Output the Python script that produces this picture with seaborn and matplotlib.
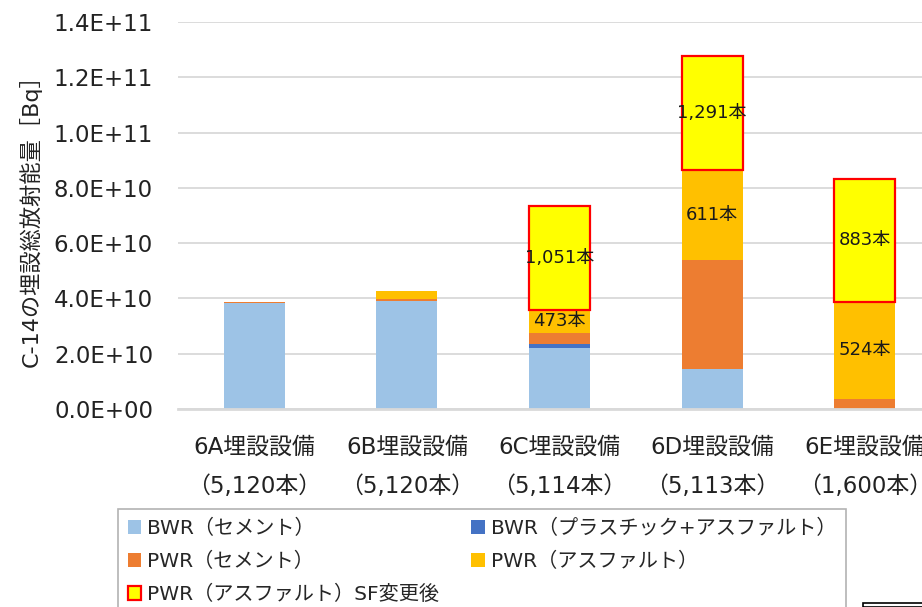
import pandas as pd
import matplotlib
matplotlib.use("Agg")
import matplotlib.pyplot as plt
from matplotlib.patches import Patch, Rectangle
import seaborn as sns

sns.set_theme(style="white")
# DejaVu for latin (wide, like the original), Noto CJK for Japanese
plt.rcParams['font.family'] = ['DejaVu Sans', 'Noto Sans CJK JP']

# data (Bq)
facilities = ["6A埋設設備", "6B埋設設備", "6C埋設設備", "6D埋設設備", "6E埋設設備"]
drum_counts = ["（5,120本）", "（5,120本）", "（5,114本）", "（5,113本）", "（1,600本）"]
bwr_cement = [3.83e10, 3.92e10, 2.22e10, 1.44e10, 0.0]
bwr_plastic = [0.0, 0.0, 0.12e10, 0.0, 0.0]
pwr_cement = [0.05e10, 0.06e10, 0.42e10, 3.95e10, 0.36e10]
pwr_asphalt = [0.0, 0.29e10, 0.82e10, 3.25e10, 3.52e10]
pwr_asphalt_sf = [0.0, 0.0, 3.76e10, 4.14e10, 4.44e10]
asphalt_labels = ["", "", "473本", "611本", "524本"]
sf_labels = ["", "", "1,051本", "1,291本", "883本"]

series = [
    ("BWR（セメント）", bwr_cement, "#9DC3E6"),
    ("BWR（プラスチック+アスファルト）", bwr_plastic, "#4472C4"),
    ("PWR（セメント）", pwr_cement, "#ED7D31"),
    ("PWR（アスファルト）", pwr_asphalt, "#FFC000"),
    ("PWR（アスファルト）SF変更後", pwr_asphalt_sf, "#FFFF00"),
]

fig = plt.figure(figsize=(9.22, 6.07), dpi=100)
ax = fig.add_axes([178 / 922, 1 - 409 / 607, 1 - 178 / 922, (409 - 22) / 607])

xlabels = [f + "\n" + c for f, c in zip(facilities, drum_counts)]
bottom = [0.0] * len(facilities)
handles = []
for name, vals, color in series:
    is_sf = name.endswith("SF変更後")
    df = pd.DataFrame({"facility": xlabels, "value": vals})
    sns.barplot(data=df, x="facility", y="value", bottom=bottom, color=color,
                width=0.4, ax=ax, saturation=1,
                edgecolor="#FF0000" if is_sf else "none",
                linewidth=1.6 if is_sf else 0)
    # hide empty segments (otherwise the red outline shows up as a line)
    for p in ax.containers[-1]:
        if p.get_height() == 0:
            p.set_visible(False)
    if is_sf:
        handles.append(Patch(facecolor=color, edgecolor="#FF0000", linewidth=1.6, label=name))
    else:
        handles.append(Patch(facecolor=color, edgecolor="none", label=name))
    # labels in the middle of the segments
    if name == "PWR（アスファルト）":
        seg_labels = asphalt_labels
    elif is_sf:
        seg_labels = sf_labels
    else:
        seg_labels = []
    for i, t in enumerate(seg_labels):
        if t:
            ax.text(i, bottom[i] + vals[i] / 2, t, ha="center", va="center",
                    fontsize=13, color="#1a1a1a")
    bottom = [b + v for b, v in zip(bottom, vals)]

ax.set_xlim(-0.5, 4.376)
ax.set_ylim(0, 1.4e11)
ax.set_yticks([i * 2e10 for i in range(8)])
ax.set_yticklabels([f"{v:.1E}" for v in ax.get_yticks()])
ax.yaxis.grid(True, color="#D9D9D9", linewidth=1.3)
ax.set_axisbelow(True)
for s in ["top", "right", "left"]:
    ax.spines[s].set_visible(False)
ax.spines["bottom"].set_color("#D9D9D9")
ax.spines["bottom"].set_linewidth(2)
ax.tick_params(axis="y", length=0, pad=18, labelsize=16.5, colors="#222222")
ax.tick_params(axis="x", length=0, pad=19, labelsize=16.5, colors="#222222")
for lab in ax.get_xticklabels():
    lab.set_linespacing(1.9)
ax.set_xlabel("")
ax.set_ylabel("C-14の埋設総放射能量［Bq］", fontsize=16, color="#222222")
ax.yaxis.set_label_coords(-0.183, 0.5)

order = [0, 2, 4, 1, 3]
leg = fig.legend([handles[i] for i in order], [handles[i].get_label() for i in order],
                 ncol=2, loc="upper left", bbox_to_anchor=(118 / 922, 1 - 509 / 607),
                 fontsize=14.5, frameon=True, fancybox=False, borderpad=0.5,
                 handlelength=0.65, handleheight=0.65, handletextpad=0.3,
                 labelspacing=0.68, columnspacing=1.6, borderaxespad=0)
leg.get_frame().set_edgecolor("#A0A0A0")
leg.get_frame().set_linewidth(1.2)

# corner of another box cut off at the bottom right
fig.patches.append(Rectangle((863 / 922, 0), 0.2, (607 - 603) / 607, transform=fig.transFigure,
                             facecolor="none", edgecolor="black", linewidth=1.2))

fig.savefig("out.png", dpi=100)
